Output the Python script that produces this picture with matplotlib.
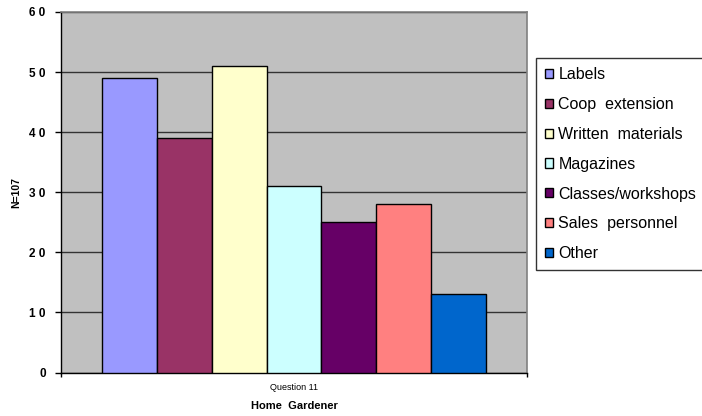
import numpy as np
import matplotlib
matplotlib.use("Agg")
import matplotlib.pyplot as plt

plt.rcParams['font.family'] = ['Liberation Sans', 'DejaVu Sans']

# data
categories = ['Labels', 'Coop  extension', 'Written  materials', 'Magazines',
              'Classes/workshops', 'Sales  personnel', 'Other']
values = [49, 39, 51, 31, 25, 28, 13]
colors = ['#9999FF', '#993366', '#FFFFCC', '#CCFFFF', '#660066', '#FF8080', '#0066CC']
yticks = [0, 10, 20, 30, 40, 50, 60]
ytick_labels = ['0', '1 0', '2 0', '3 0', '4 0', '5 0', '6 0']

fig = plt.figure(figsize=(7.02, 4.16), dpi=100)
ax = fig.add_axes([61 / 702, 1 - 372.5 / 416, 466 / 702, 360.5 / 416])
ax.set_facecolor('#C0C0C0')

x = np.arange(len(values))
for i in range(len(values)):
    ax.bar(x[i], values[i], width=1.0, color=colors[i], edgecolor='black',
           linewidth=1.0, label=categories[i], zorder=3)

ax.set_xlim(-0.5 - 0.74, len(values) - 0.5 + 0.74)
ax.set_ylim(0, 60)
ax.set_yticks(yticks)
ax.set_yticklabels(ytick_labels, fontsize=8.5, fontweight='bold')
ax.yaxis.grid(True, color='#333333', linewidth=1.0, zorder=1)
ax.tick_params(axis='y', length=4, width=1, direction='out', pad=7)
ax.set_xticks([x[0] - 1.24, x[-1] + 1.24])
ax.set_xticklabels(['', ''])
ax.tick_params(axis='x', length=3, width=1, direction='out')

for s in ['top', 'right']:
    ax.spines[s].set_color('#808080')
    ax.spines[s].set_linewidth(1.2)
for s in ['left', 'bottom']:
    ax.spines[s].set_color('black')
    ax.spines[s].set_linewidth(1.0)

ax.set_ylabel('N=107', fontsize=7.5, fontweight='bold', labelpad=6)
fig.text(294 / 702, 1 - 388 / 416, 'Question 11', fontsize=6.5, ha='center', va='center')
fig.text(294 / 702, 1 - 406 / 416, 'Home  Gardener', fontsize=8, fontweight='bold',
         ha='center', va='center')

leg = fig.legend(loc='upper left', bbox_to_anchor=(536 / 702, 1 - 58.3 / 416),
                 fontsize=11.5, frameon=True, fancybox=False, handlelength=0.5,
                 handleheight=0.5, handletextpad=0.35, labelspacing=0.93,
                 borderpad=0.55, borderaxespad=0)
leg.get_frame().set_edgecolor('black')
leg.get_frame().set_linewidth(1.0)

fig.savefig('out.png', dpi=100)
